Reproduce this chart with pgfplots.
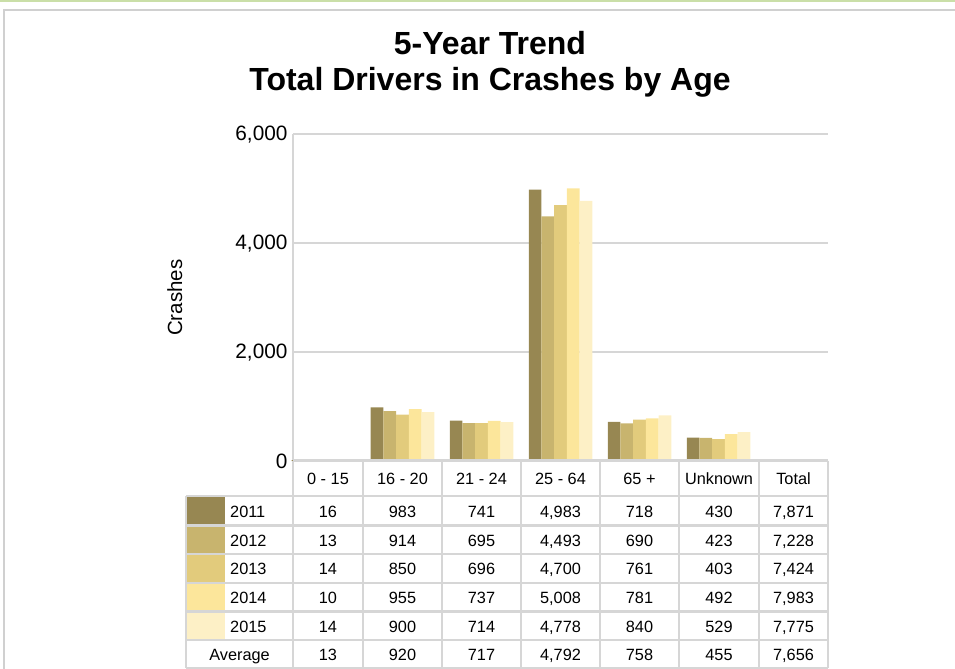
\documentclass[border=0pt]{standalone}
\usepackage{fontspec}
\setmainfont{Liberation Sans}
\usepackage{pgfplots}
\pgfplotsset{compat=1.18}
\definecolor{cA}{HTML}{978752}
\definecolor{cB}{HTML}{C8B46E}
\definecolor{cC}{HTML}{E2CB7C}
\definecolor{cD}{HTML}{FCE69B}
\definecolor{cE}{HTML}{FDF0C6}
\definecolor{lgray}{HTML}{D6D6D6}
\definecolor{fgray}{HTML}{D0D0D0}
\definecolor{lgreen}{HTML}{CADFA8}
\begin{document}
\begin{tikzpicture}
\path[use as bounding box] (0,0) rectangle (955bp,-669bp);
\begin{scope}[x=1bp,y=-1bp]
  \fill[lgreen] (0,0) rectangle (955,1.8);
  \draw[fgray,line width=2bp] (4.3,669) -- (4.3,10.2) -- (955,10.2);
  \node[anchor=base,font=\bfseries\fontsize{32bp}{36bp}\selectfont] at (490,54) {5-Year Trend};
  \node[anchor=base,font=\bfseries\fontsize{32bp}{36bp}\selectfont] at (490,90) {Total Drivers in Crashes by Age};
\end{scope}
\begin{axis}[
  at={(293bp,-461bp)}, anchor=south west,
  scale only axis, width=535bp, height=326.7bp,
  xmin=-0.386, xmax=6.386, ymin=0, ymax=6000,
  hide x axis,
  axis y line*=left,
  y axis line style={draw=lgray,line width=2bp},
  ytick={0,2000,4000,6000},
  major tick length=0pt,
  ymajorgrids,
  grid style={draw=lgray,line width=2.2bp},
  /pgf/number format/assume math mode=true,
  /pgf/number format/1000 sep={,},
  yticklabel style={font=\fontsize{20.8bp}{24bp}\selectfont, xshift=-2bp},
  ylabel={Crashes},
  ylabel style={font=\fontsize{20.5bp}{24bp}\selectfont, at={(axis description cs:-0.221,0.5)}, anchor=center},
  ybar=0pt, bar width=12.7bp,
  clip=false,
]
\addplot[draw=none,fill=cA] coordinates {(0,16) (1,983) (2,741) (3,4983) (4,718) (5,430)};
\addplot[draw=none,fill=cB] coordinates {(0,13) (1,914) (2,695) (3,4493) (4,690) (5,423)};
\addplot[draw=none,fill=cC] coordinates {(0,14) (1,850) (2,696) (3,4700) (4,761) (5,403)};
\addplot[draw=none,fill=cD] coordinates {(0,10) (1,955) (2,737) (3,5008) (4,781) (5,492)};
\addplot[draw=none,fill=cE] coordinates {(0,14) (1,900) (2,714) (3,4778) (4,840) (5,529)};
\end{axis}
\begin{scope}[x=1bp,y=-1bp]
  % swatches
  \fill[cA] (187.3,497.2) rectangle (225,524.3);
  \fill[cB] (187.3,526.8) rectangle (225,552.8);
  \fill[cC] (187.3,555.3) rectangle (225,581.8);
  \fill[cD] (187.3,584.3) rectangle (225,610.3);
  \fill[cE] (187.3,612.8) rectangle (225,638.8);
  % grid of table
  \begin{scope}[lgray,line width=2.5bp]
    \draw (293,460.7) -- (828,460.7);
    \foreach \yy in {496,525.5,554,583,611.5,640,668} \draw (186,\yy) -- (828,\yy);
    \foreach \xx in {293,363,442,521,600,679,759,828} \draw (\xx,460.7) -- (\xx,668);
    \draw (186,496) -- (186,668);
  \end{scope}
  % text
  \begin{scope}[every node/.style={anchor=base,font=\fontsize{16.3bp}{19bp}\selectfont,inner sep=0pt}]
    \foreach \xx/\tt in {328/0 - 15,402.5/16 - 20,481.5/21 - 24,560.5/25 - 64,639.5/65 +,719/Unknown,793.5/Total}
      \node at (\xx,484) {\tt};
    \node[anchor=base west] at (230,517) {2011};
    \node[anchor=base west] at (230,546) {2012};
    \node[anchor=base west] at (230,574.5) {2013};
    \node[anchor=base west] at (230,603.5) {2014};
    \node[anchor=base west] at (230,632) {2015};
    \node at (239.5,660.5) {Average};
    \foreach \xx/\tt in {328/16,402.5/983,481.5/741,560.5/{4,983},639.5/718,719/430,793.5/{7,871}}
      \node at (\xx,517) {\tt};
    \foreach \xx/\tt in {328/13,402.5/914,481.5/695,560.5/{4,493},639.5/690,719/423,793.5/{7,228}}
      \node at (\xx,546) {\tt};
    \foreach \xx/\tt in {328/14,402.5/850,481.5/696,560.5/{4,700},639.5/761,719/403,793.5/{7,424}}
      \node at (\xx,574.5) {\tt};
    \foreach \xx/\tt in {328/10,402.5/955,481.5/737,560.5/{5,008},639.5/781,719/492,793.5/{7,983}}
      \node at (\xx,603.5) {\tt};
    \foreach \xx/\tt in {328/14,402.5/900,481.5/714,560.5/{4,778},639.5/840,719/529,793.5/{7,775}}
      \node at (\xx,632) {\tt};
    \foreach \xx/\tt in {328/13,402.5/920,481.5/717,560.5/{4,792},639.5/758,719/455,793.5/{7,656}}
      \node at (\xx,660.5) {\tt};
  \end{scope}
\end{scope}
\end{tikzpicture}
\end{document}
